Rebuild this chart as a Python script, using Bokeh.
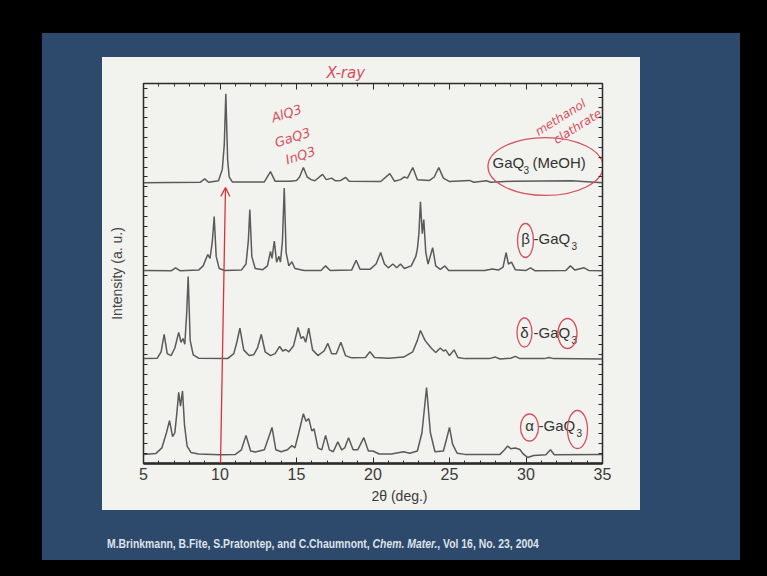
from bokeh.plotting import figure
from bokeh.layouts import column
from bokeh.models import (Range1d, LinearAxis, FixedTicker, CustomJSTickFormatter,
                          Title, Arrow, OpenHead, Div)
from bokeh.core.properties import value
from bokeh.embed import file_html
from bokeh.resources import INLINE

# ---- diffraction patterns: 2-theta (deg) and relative intensity above each baseline ----
alpha_2theta = [5.0, 5.8, 6.2, 6.5, 6.7, 6.9, 7.05, 7.2, 7.3, 7.42, 7.55, 7.68, 7.85, 8.1, 8.6,
                10.0, 11.0, 11.4, 11.7, 12.0, 12.3, 12.9, 13.2, 13.4, 13.65, 14.0, 14.4, 14.7,
                14.9, 15.15, 15.45, 15.62, 15.8, 16.0, 16.15, 16.4, 16.65, 16.9, 17.15, 17.4,
                17.7, 17.95, 18.15, 18.4, 18.7, 19.0, 19.4, 19.7, 20.0, 20.4, 21.2, 22.0, 22.4,
                22.9, 23.2, 23.5, 23.75, 24.05, 24.6, 24.85, 25.0, 25.2, 25.5, 26.0, 28.3, 28.6,
                28.8, 29.0, 29.3, 29.6, 29.8, 30.1, 30.5, 31.3, 31.6, 31.85, 35.0]
alpha_counts = [0.3, 0.5, 2.0, 6.0, 9.2, 5.0, 6.0, 12.0, 16.6, 13.0, 17.0, 8.0, 2.5, 0.8, 0.4,
                0.2, 0.3, 1.5, 5.3, 1.2, 0.9, 1.5, 5.0, 7.4, 1.5, 1.0, 1.5, 2.6,
                2.0, 6.0, 11.0, 9.0, 9.7, 6.5, 7.0, 2.0, 1.5, 5.3, 1.5, 1.0,
                3.6, 1.5, 2.0, 4.7, 1.5, 1.5, 4.7, 1.2, 1.2, 0.4, 0.4, 1.0, 0.6,
                1.2, 6.0, 17.9, 6.0, 1.0, 1.2, 5.0, 7.4, 3.0, 0.6, 0.3, 0.3, 1.5,
                2.5, 1.8, 2.0, 1.6, 0.5, -0.5, 0.0, 0.2, 1.5, 0.2, 0.3]

delta_2theta = [5.0, 5.9, 6.15, 6.35, 6.55, 6.8, 7.05, 7.3, 7.45, 7.58, 7.7, 7.82, 7.92, 8.05,
                8.25, 8.6, 10.5, 10.9, 11.1, 11.3, 11.55, 11.9, 12.2, 12.45, 12.7, 12.95, 13.3,
                13.6, 13.9, 14.1, 14.3, 14.5, 14.8, 15.1, 15.3, 15.45, 15.6, 15.8, 16.05, 16.4,
                16.8, 17.05, 17.3, 17.6, 17.9, 18.2, 18.6, 19.5, 19.8, 20.1, 21.0, 22.0, 22.6,
                22.9, 23.1, 23.4, 23.8, 24.1, 24.4, 24.6, 24.75, 25.0, 25.3, 25.55, 26.0, 27.6,
                28.0, 28.3, 29.0, 29.3, 29.6, 31.2, 31.5, 31.8, 35.0]
delta_counts = [0.2, 0.3, 2.0, 6.6, 1.5, 1.0, 3.0, 7.1, 4.5, 5.5, 4.0, 12.0, 21.8, 5.0,
                1.2, 0.3, 0.2, 1.5, 4.5, 8.2, 2.5, 1.0, 1.2, 3.0, 6.6, 2.0, 1.0,
                1.5, 3.4, 2.2, 2.6, 2.0, 3.5, 8.4, 5.5, 6.0, 4.5, 8.2, 2.5, 1.0,
                2.2, 4.2, 1.5, 1.5, 4.5, 1.0, 0.4, 0.5, 2.0, 0.5, 0.3, 0.6, 2.0,
                5.0, 7.6, 5.0, 3.0, 1.8, 3.0, 2.2, 2.5, 1.0, 2.5, 0.5, 0.2, 0.2,
                0.6, 0.1, 0.3, 0.8, 0.2, 0.2, 0.5, 0.2, 0.1]

beta_2theta = [5.0, 6.8, 7.1, 7.4, 8.6, 8.9, 9.2, 9.35, 9.5, 9.62, 9.75, 9.95, 10.3, 11.4,
               11.7, 11.85, 11.95, 12.08, 12.3, 12.8, 13.1, 13.3, 13.4, 13.55, 13.7, 13.85,
               13.95, 14.08, 14.2, 14.32, 14.5, 14.7, 14.9, 15.5, 16.6, 16.9, 17.2, 18.6, 18.9,
               19.15, 19.8, 20.2, 20.5, 20.75, 21.0, 21.3, 21.55, 21.8, 22.05, 22.5, 22.8, 22.9,
               23.0, 23.1, 23.22, 23.32, 23.45, 23.6, 23.9, 24.1, 24.4, 24.7, 24.95, 27.3, 27.8,
               28.2, 28.5, 28.7, 28.85, 29.05, 29.3, 30.0, 30.3, 30.6, 32.6, 32.9, 33.2, 33.8,
               34.1, 35.0]
beta_counts = [0.3, 0.2, 1.0, 0.2, 0.4, 1.5, 4.5, 3.5, 8.0, 14.5, 4.0, 0.8, 0.3, 0.4,
               2.0, 8.0, 16.3, 4.0, 0.8, 0.5, 1.5, 5.3, 3.5, 8.0, 2.5, 4.0,
               2.5, 8.0, 22.0, 5.0, 1.5, 2.6, 0.8, 0.3, 0.3, 1.5, 0.3, 0.4, 3.0,
               0.6, 0.6, 2.0, 5.0, 2.0, 1.0, 2.0, 1.0, 2.0, 0.8, 1.5, 4.0, 6.0,
               10.0, 18.4, 10.0, 13.7, 5.0, 2.0, 6.3, 1.5, 0.6, 1.5, 0.3, 0.3, 0.7,
               0.4, 1.2, 5.0, 2.0, 2.5, 0.5, 0.3, 1.0, 0.2, 0.3, 1.5, 0.4, 1.0,
               0.3, 0.2]

meoh_2theta = [5.0, 8.7, 9.0, 9.25, 9.9, 10.15, 10.28, 10.38, 10.5, 10.6, 10.8, 12.9, 13.3,
               13.6, 14.6, 15.0, 15.2, 15.45, 15.7, 15.95, 16.2, 16.7, 16.95, 17.3, 17.55,
               17.9, 18.2, 18.45, 20.5, 21.1, 21.4, 21.8, 22.05, 22.25, 22.6, 22.9, 23.7, 24.0,
               24.3, 24.6, 25.0, 26.3, 26.6, 27.4, 27.7, 29.1, 33.0, 35.0]
meoh_counts = [0.0, 0.1, 1.0, 0.1, 0.5, 3.5, 10.0, 23.4, 6.0, 1.5, 0.2, 0.2, 2.9,
               0.4, 0.4, 0.6, 1.5, 4.0, 1.5, 0.8, 0.5, 2.2, 0.8, 1.2, 0.5,
               0.6, 1.4, 0.4, 0.3, 2.4, 0.4, 0.8, 1.5, 1.2, 4.0, 0.8, 0.6, 1.5,
               4.0, 1.2, 0.3, 0.6, 0.1, 0.5, 0.1, 0.4, 0.5, 0.0]

patterns = [(alpha_2theta, alpha_counts), (delta_2theta, delta_counts),
            (beta_2theta, beta_counts), (meoh_2theta, meoh_counts)]
baselines = [2.1, 27.4, 50.5, 73.9]
x_ticks = [5, 10, 15, 20, 25, 30, 35]

# ---- page geometry (pixels) ----
W, H = 767, 576
PLOT_H = 520                      # figure height; the citation strip sits below it
FL, FR, FT, FB = 143, 602, 83, 463
X0, X1, Y0, Y1 = 5.0, 35.0, 0.0, 100.0
XS = (FR - FL) / (X1 - X0)        # px per degree
YS = (FB - FT) / (Y1 - Y0)        # px per intensity unit


def sx(px):
    return X0 + (px - FL) / XS


def sy(py):
    return Y0 + (FB - py) / YS


INK = "#2b2b2b"
TRACE = "#5a5a5a"
PEN = "#d4505f"
ARROW = "#d8343c"
SLIDE = "#2d4a6c"
PAPER = "#f2f2ee"
FONT = "Liberation Sans"

slide_css = (
    f"linear-gradient({PAPER},{PAPER}) 102px 57px / 538px 453px no-repeat, "
    f"linear-gradient({SLIDE},{SLIDE}) 42px 33px / 698px {PLOT_H - 33}px no-repeat, "
    "#000000"
)

p = figure(width=W, height=PLOT_H, x_range=Range1d(X0, X1), y_range=Range1d(Y0, Y1),
           output_backend="svg", toolbar_location=None,
           min_border_left=FL, min_border_right=W - FR,
           min_border_top=FT, min_border_bottom=PLOT_H - FB,
           styles={"background": slide_css})
p.border_fill_color = None
p.background_fill_color = PAPER
p.grid.visible = False
p.outline_line_color = INK
p.outline_line_width = 1.5

# handwritten note above the frame
p.title.text = "X-ray"
p.title.align = "left"
p.title.offset = 347 - FL - 21
p.title.standoff = 4
p.title.text_color = PEN
p.title.text_font = "DejaVu Sans"
p.title.text_font_style = "italic"
p.title.text_font_size = "15px"

blank = CustomJSTickFormatter(code="return ''")
y_ticker = FixedTicker(ticks=[i * 2.6 for i in range(39)])
x_ticker = FixedTicker(ticks=x_ticks, minor_ticks=list(range(5, 36)))

xb = p.xaxis[0]
xb.ticker = x_ticker
xb.axis_line_width = 2.5
xb.axis_line_color = INK
xb.major_tick_in, xb.major_tick_out = 6, 0
xb.minor_tick_in, xb.minor_tick_out = 3, 0
xb.major_tick_line_color = INK
xb.minor_tick_line_color = INK
xb.major_label_text_font = FONT
xb.major_label_text_font_size = "16px"
xb.major_label_text_color = "#3a3a3a"
xb.major_label_standoff = 4

yl = p.yaxis[0]
yl.ticker = y_ticker
yl.formatter = blank
yl.axis_line_color = INK
yl.major_tick_in, yl.major_tick_out = 4, 0
yl.minor_tick_line_color = None
yl.major_tick_line_color = INK
yl.axis_label = "Intensity (a. u.)"
yl.axis_label_text_font = FONT
yl.axis_label_text_font_size = "14px"
yl.axis_label_text_font_style = "normal"
yl.axis_label_text_color = "#444444"
yl.axis_label_standoff = 19

top = LinearAxis(ticker=x_ticker, formatter=blank, axis_line_color=INK,
                 major_tick_in=6, major_tick_out=0, minor_tick_in=3, minor_tick_out=0,
                 major_tick_line_color=INK, minor_tick_line_color=INK)
p.add_layout(top, "above")
right = LinearAxis(ticker=y_ticker, formatter=blank, axis_line_color=INK,
                   major_tick_in=4, major_tick_out=0, minor_tick_line_color=None,
                   major_tick_line_color=INK)
p.add_layout(right, "right")

# x-axis title, set right of the frame centre
p.add_layout(Title(text="2θ (deg.)", align="left", offset=400 - FL - 29,
                   standoff=6, text_font=FONT, text_font_size="14px",
                   text_font_style="normal", text_color="#3a3a3a"), "below")

# stacked patterns
for (tt, cc), base in zip(patterns, baselines):
    p.line(tt, [c + base for c in cc], line_color=TRACE, line_width=1.5)


# sample names
def name(px, py, txt, size="15px", align="left"):
    p.text(x=[sx(px)], y=[sy(py)], text=[txt], text_font=value(FONT),
           text_font_size=size, text_color="#333333", text_align=align,
           text_baseline="middle")


name(492, 162, "GaQ")
name(523, 169, "3", "10px")
name(532, 162, "(MeOH)")
name(525, 238, "β", align="center")
name(533, 238, "-GaQ")
name(571, 245, "3", "10px")
name(524, 332, "δ", align="center")
name(533, 332, "-GaQ")
name(571, 339, "3", "10px")
name(529, 425, "α", align="center")
name(538, 425, "-GaQ")
name(576, 432, "3", "10px")

# pen marks around the labels
p.ellipse(x=[sx(545), sx(525), sx(524), sx(567), sx(529), sx(577)],
          y=[sy(166), sy(240), sy(332), sy(333), sy(427), sy(429)],
          width=[115 / XS, 16 / XS, 15 / XS, 19 / XS, 18 / XS, 20 / XS],
          height=[58 / YS, 34 / YS, 29 / YS, 30 / YS, 27 / YS, 38 / YS],
          fill_color=None, line_color=PEN, line_width=1.3)


def pen(px, py, txt, angle, size="13px"):
    p.text(x=[sx(px)], y=[sy(py)], text=[txt], angle=angle, angle_units="deg",
           text_font=value("DejaVu Sans"), text_font_style="italic",
           text_font_size=size, text_color=PEN, text_align="center",
           text_baseline="middle")


pen(286, 113, "AlQ3", 18)
pen(292, 137, "GaQ3", 18)
pen(300, 155, "InQ3", 18)
pen(560, 117, "methanol", 32, "12px")
pen(577, 126, "clathrate", 32, "12px")

p.add_layout(Arrow(end=OpenHead(size=9, line_color=ARROW, line_width=1.3),
                   x_start=sx(220), y_start=sy(463), x_end=sx(225), y_end=sy(187),
                   line_color=ARROW, line_width=1.3))

# citation strip along the foot of the slide
strip_css = (
    f"linear-gradient({SLIDE},{SLIDE}) 42px 0px / 698px {560 - PLOT_H}px no-repeat, "
    "#000000"
)
cite_html = (
    '<span style="display:inline-block; white-space:nowrap; transform:scaleX(0.866); '
    "transform-origin:left center; font-family:'Liberation Sans'; font-weight:bold; "
    'font-size:12px; color:#dde2ea; margin-left:107px; margin-top:16px;">'
    "M.Brinkmann, B.Fite, S.Pratontep, and C.Chaumnont, <i>Chem. Mater.</i>, "
    "Vol 16, No. 23, 2004</span>"
)
cite = Div(text=cite_html, width=W, height=H - PLOT_H,
           styles={"background": strip_css, "margin": "0px"})

page = column(p, cite, spacing=0)
open("out.html", "w").write(file_html(page, INLINE))
